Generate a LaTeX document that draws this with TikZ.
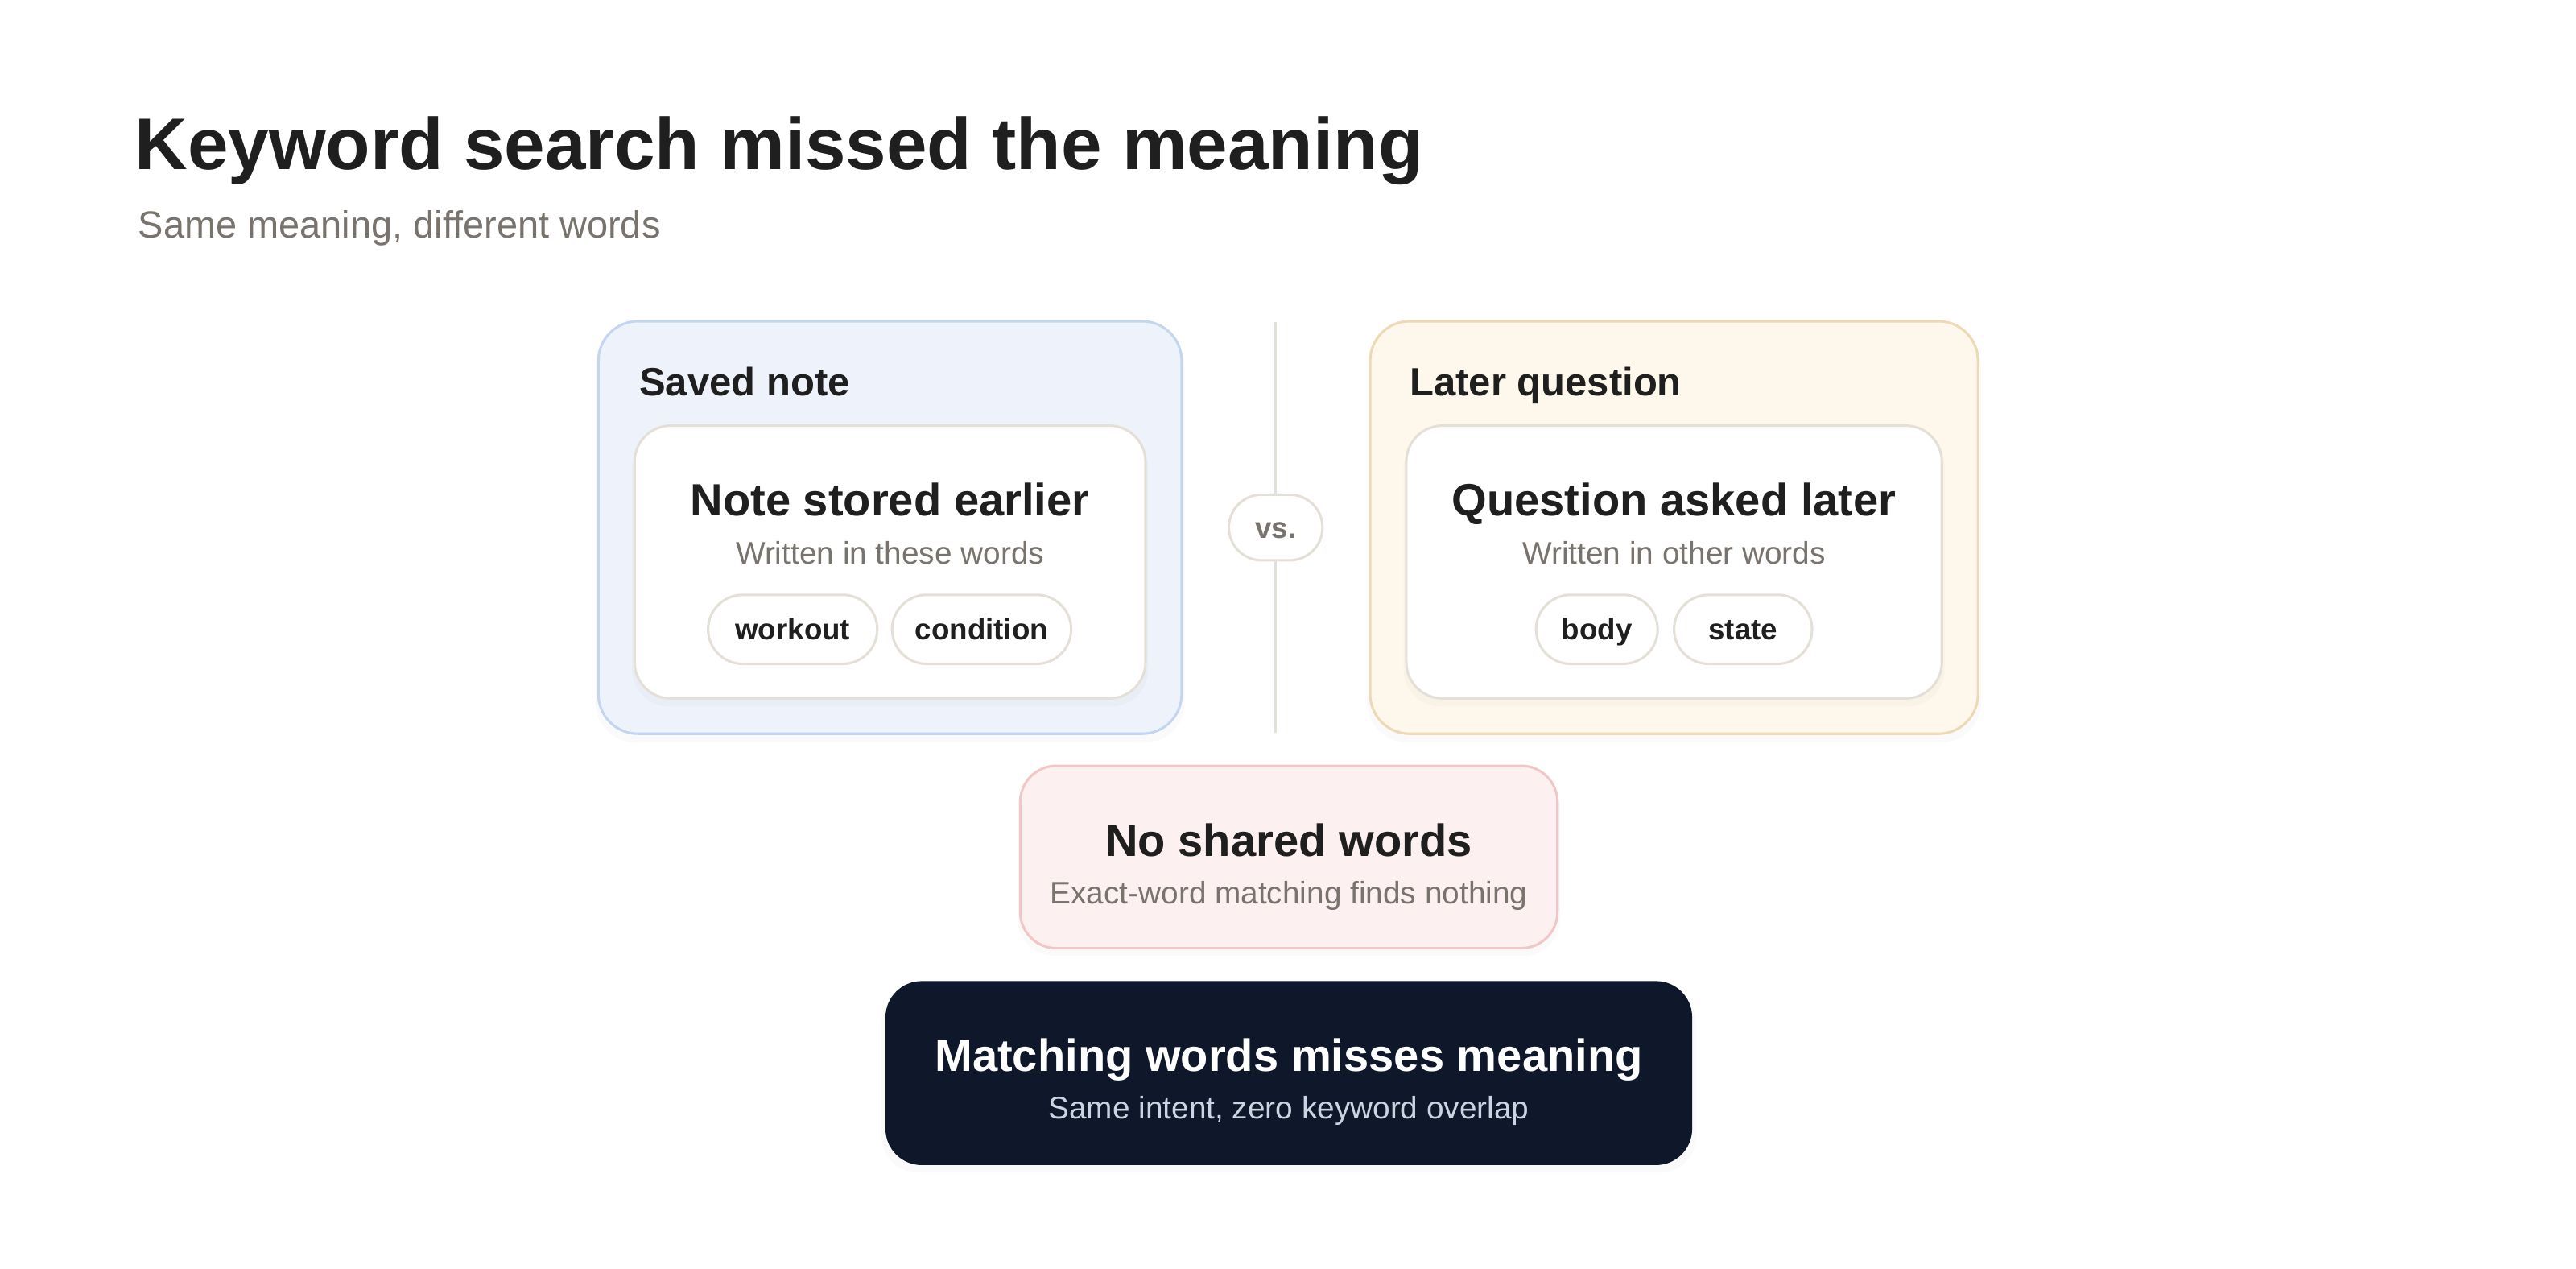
\documentclass[tikz,border=0pt]{standalone}
\usepackage{fontspec}
\setmainfont{Liberation Sans}
\usetikzlibrary{shadows}

\definecolor{ink}{HTML}{1F1F1F}
\definecolor{muted}{HTML}{78736C}
\definecolor{blueback}{HTML}{EEF3FB}
\definecolor{blueedge}{HTML}{C4D6EF}
\definecolor{sandback}{HTML}{FEF8EC}
\definecolor{sandedge}{HTML}{EDD9B5}
\definecolor{roseback}{HTML}{FDF0F0}
\definecolor{roseedge}{HTML}{F0C6C6}
\definecolor{chipedge}{HTML}{E4E0D7}
\definecolor{navy}{HTML}{0F172A}
\definecolor{slate}{HTML}{CBD5E1}

\tikzset{
    softshadow/.style={drop shadow={shadow xshift=0pt,shadow yshift=-4pt,shadow scale=1.01,opacity=0.04}},
    panel/.style={line width=1.5pt,rounded corners=24pt,softshadow},
    card/.style={draw=chipedge,fill=white,line width=1.5pt,rounded corners=22pt,
        minimum width=#1,minimum height=166pt,softshadow},
    chip/.style={draw=chipedge,fill=white,line width=1.5pt,rounded corners=21pt,
        minimum width=#1,minimum height=42pt,inner sep=0pt,text height=17pt,text depth=4pt,
        text=ink,font=\bfseries\fontsize{18pt}{20pt}\selectfont},
    head/.style={inner sep=0pt,anchor=base west,text=ink,font=\bfseries\fontsize{24pt}{28pt}\selectfont},
    big/.style={inner sep=0pt,anchor=base,text=ink,font=\bfseries\fontsize{27.5pt}{32pt}\selectfont},
    small/.style={inner sep=0pt,anchor=base,text=muted,font=\fontsize{19pt}{22pt}\selectfont}
}

\begin{document}
\begin{tikzpicture}[x=1pt,y=-1pt]
    \useasboundingbox[fill=white] (0,0) rectangle (1568,772);

    % heading
    \node[anchor=base west,inner sep=0pt,text=ink,font=\bfseries\fontsize{44.5pt}{50pt}\selectfont] (title) at (82,103) {Keyword search missed the meaning};
    \node[anchor=base west,inner sep=0pt,text=muted,font=\fontsize{23pt}{27pt}\selectfont] (subtitle) at (84,145) {Same meaning, different words};

    % saved note
    \node[panel,draw=blueedge,fill=blueback,minimum width=355pt,minimum height=251pt] (saved) at (541.75,321) {};
    \node[head] (savedhead) at (389,241) {Saved note};
    \node[card=311pt] (savedcard) at (541.75,342) {};
    \node[big] (savedtitle) at (541.75,314) {Note stored earlier};
    \node[small] (savedsub) at (541.75,343) {Written in these words};
    \foreach \word/\x/\w [count=\i] in {workout/482.5/103,condition/597.5/109}
        \node[chip=\w pt] (savedchip\i) at (\x,383) {\word};

    % divider
    \coordinate (divtop) at (776.5,196);
    \coordinate (divbot) at (776.5,446);
    \node[chip=57pt,minimum height=40pt,rounded corners=20pt,text=muted] (vs) at (776.5,321) {vs.};
    \draw[chipedge,line width=1.5pt] (divtop) -- (vs) (vs) -- (divbot);

    % later question
    \node[panel,draw=sandedge,fill=sandback,minimum width=370pt,minimum height=251pt] (later) at (1019,321) {};
    \node[head] (laterhead) at (858,241) {Later question};
    \node[card=326pt] (latercard) at (1019,342) {};
    \node[big] (latertitle) at (1019,314) {Question asked later};
    \node[small] (latersub) at (1019,343) {Written in other words};
    \foreach \word/\x/\w [count=\i] in {body/972/74,state/1061/84}
        \node[chip=\w pt] (laterchip\i) at (\x,383) {\word};

    % no overlap
    \node[panel,draw=roseedge,fill=roseback,rounded corners=22pt,minimum width=327pt,minimum height=111pt] (noshared) at (784.5,521.5) {};
    \node[big] (nosharedtitle) at (784.5,521) {No shared words};
    \node[small] (nosharedsub) at (784.5,550) {Exact-word matching finds nothing};

    % verdict
    \node[fill=navy,rounded corners=22pt,minimum width=491pt,minimum height=112pt,softshadow] (verdict) at (784.5,653) {};
    \node[big,text=white] (verdicttitle) at (784.5,652) {Matching words misses meaning};
    \node[small,text=slate] (verdictsub) at (784.5,681) {Same intent, zero keyword overlap};
\end{tikzpicture}
\end{document}
